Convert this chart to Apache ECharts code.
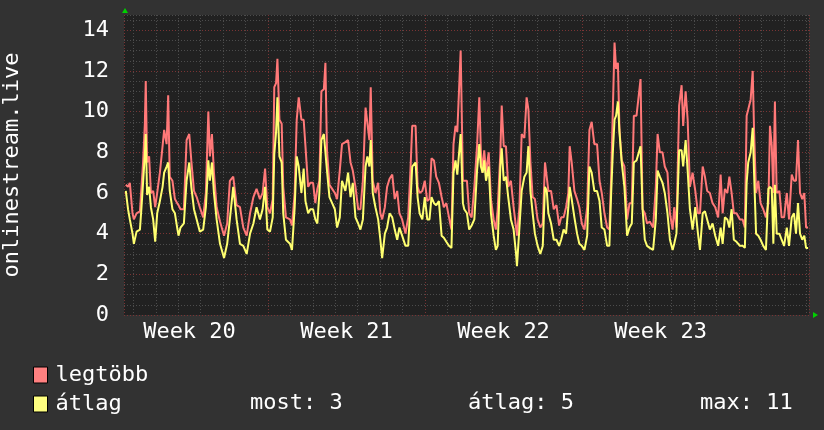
<!DOCTYPE html>
<html>
<head>
<meta charset="utf-8">
<title>onlinestream.live</title>
<script src="https://cdn.jsdelivr.net/npm/echarts@6/dist/echarts.min.js"></script>
<style>
html, body { margin: 0; padding: 0; background: #323232; }
#chart { width: 824px; height: 430px; }
</style>
</head>
<body>
<div id="chart"></div>
<script>
// time in days, 0 = start of Week 21
var days = [
    -6.34, -6.24, -6.16, -6.04, -5.98, -5.86, -5.71, -5.64, -5.57, -5.49,
    -5.45, -5.39, -5.30, -5.22, -5.12, -5.03, -4.94, -4.82, -4.70, -4.63,
    -4.52, -4.45, -4.38, -4.26, -4.15, -4.05, -3.99, -3.90, -3.75, -3.63,
    -3.51, -3.42, -3.30, -3.18, -3.04, -2.89, -2.77, -2.66, -2.59, -2.50,
    -2.41, -2.29, -2.14, -1.96, -1.82, -1.70, -1.55, -1.40, -1.25, -1.10,
    -0.95, -0.80, -0.65, -0.51, -0.36, -0.24, -0.13, -0.03, 0.09, 0.21,
    0.28, 0.36, 0.42, 0.51, 0.61, 0.68, 0.80, 0.98,
    1.07, 1.19, 1.28, 1.37, 1.49, 1.59, 1.67, 1.79, 1.89, 2.01,
    2.11, 2.20, 2.29, 2.38, 2.49, 2.56, 2.63, 2.74, 2.86, 2.98,
    3.08, 3.20, 3.30, 3.45, 3.57, 3.68, 3.78, 3.90, 4.02, 4.12,
    4.23, 4.35, 4.43, 4.52, 4.58, 4.67, 4.79, 4.91, 5.01, 5.09,
    5.21, 5.31, 5.42, 5.54, 5.65, 5.76, 5.86, 5.98, 6.13, 6.25,
    6.35, 6.43, 6.58, 6.67, 6.76, 6.88, 6.99, 7.10, 7.20, 7.29,
    7.40, 7.50, 7.62, 7.74, 7.84, 7.95, 8.07, 8.18, 8.27, 8.36,
    8.44, 8.59, 8.69,
    8.75, 8.87, 8.97, 9.08, 9.20, 9.32, 9.42, 9.49, 9.57, 9.64,
    9.72, 9.84, 9.94, 10.06, 10.16, 10.24, 10.36, 10.42, 10.51, 10.61,
    10.71, 10.83, 10.95, 11.06, 11.10, 11.21, 11.31, 11.43, 11.53, 11.61,
    11.70, 11.80, 11.90, 12.02, 12.14, 12.25, 12.35, 12.43, 12.50, 12.62,
    12.74, 12.86, 12.98, 13.07, 13.18, 13.29, 13.39, 13.45, 13.54, 13.66,
    13.78, 13.88, 13.99, 14.11, 14.23, 14.33, 14.43, 14.55, 14.67, 14.78,
    14.88, 15.00, 15.12, 15.22, 15.30, 15.37, 15.45, 15.52, 15.60, 15.67,
    15.77, 15.89, 16.01, 16.12, 16.22, 16.31,
    16.43, 16.61, 16.70, 16.80, 16.90, 17.02, 17.17, 17.29, 17.37, 17.47,
    17.59, 17.69, 17.81, 17.92, 18.04, 18.11, 18.21, 18.33, 18.44, 18.51,
    18.62, 18.71, 18.81, 18.93, 19.05, 19.17, 19.26, 19.38, 19.48, 19.58,
    19.70, 19.82, 19.94, 20.07, 20.18, 20.27, 20.37, 20.48, 20.57, 20.67,
    20.77, 20.89, 21.04, 21.16, 21.26, 21.34, 21.41, 21.52, 21.61, 21.67,
    21.76, 21.86, 21.96, 22.08, 22.20, 22.31, 22.38, 22.46, 22.53, 22.60,
    22.68, 22.80, 22.90, 23.01, 23.13, 23.23, 23.35, 23.45, 23.54, 23.63,
    23.72, 23.82, 23.91, 23.99, 24.08
];

var legtobb = [
    6.4, 6.3, 6.5, 5.0, 4.7, 5.0, 5.1, 6.3, 7.5, 9.4,
    11.5, 7.5, 7.8, 6.0, 6.1, 5.3, 6.0, 7.0, 8.3, 9.1,
    8.4, 10.8, 6.8, 6.6, 5.7, 5.5, 5.4, 5.2, 5.2, 8.6,
    8.9, 7.6, 6.1, 5.8, 5.3, 4.8, 6.0, 10.0, 7.8, 8.9,
    7.0, 5.3, 4.6, 3.9, 4.5, 6.6, 6.8, 5.4, 5.3, 4.3,
    3.9, 5.0, 5.8, 6.2, 5.7, 6.0, 7.2, 5.3, 5.0, 5.7,
    11.2, 11.4, 12.6, 9.6, 9.4, 6.3, 4.8, 4.7,
    4.4, 6.0, 9.6, 10.7, 9.6, 9.6, 8.3, 6.3, 6.5, 6.5,
    5.5, 6.2, 6.6, 11.0, 11.1, 12.4, 8.1, 6.4, 6.2, 6.0,
    5.7, 7.1, 8.4, 8.5, 8.6, 7.5, 7.1, 6.3, 5.2, 5.2,
    6.6, 10.2, 10.2, 8.6, 11.2, 6.6, 6.0, 6.5, 5.0, 4.7,
    5.3, 6.3, 6.7, 6.9, 5.7, 6.1, 5.0, 4.7, 4.0, 4.8,
    7.1, 9.3, 9.3, 6.3, 6.0, 6.1, 6.6, 5.6, 5.7, 7.7,
    7.6, 6.8, 6.5, 5.8, 5.3, 5.5, 4.8, 4.2, 8.4, 9.3,
    9.0, 13.0, 6.6,
    6.6, 6.6, 5.0, 4.8, 6.3, 8.3, 10.7, 8.1, 7.0, 8.1,
    7.0, 8.0, 5.7, 4.7, 4.2, 5.2, 8.0, 10.3, 8.3, 8.3,
    6.3, 6.6, 5.3, 4.3, 3.9, 5.3, 8.9, 8.7, 10.7, 10.1,
    7.5, 5.8, 5.7, 4.7, 4.3, 4.5, 7.5, 7.5, 6.1, 6.1,
    5.2, 5.4, 4.4, 4.8, 4.8, 5.3, 6.0, 8.3, 7.5, 6.1,
    5.7, 5.3, 4.5, 4.2, 5.3, 9.1, 9.5, 8.4, 8.4, 6.6,
    6.0, 5.0, 4.3, 4.2, 6.8, 9.9, 13.4, 12.1, 12.4, 9.1,
    7.6, 7.3, 4.7, 5.5, 5.5, 9.8,
    9.8, 11.6, 5.2, 5.0, 4.5, 4.6, 4.3, 6.3, 8.9, 8.0,
    8.0, 7.3, 7.0, 5.0, 4.2, 5.3, 4.3, 10.3, 11.3, 9.3,
    11.0, 9.6, 6.3, 7.0, 6.1, 5.0, 5.0, 7.3, 6.8, 6.1,
    6.0, 5.5, 5.3, 4.8, 6.9, 5.0, 6.2, 6.0, 6.8, 6.0,
    5.0, 5.0, 4.7, 4.7, 4.3, 9.8, 10.1, 10.6, 12.0, 9.1,
    6.0, 6.6, 5.5, 5.2, 4.8, 5.5, 9.3, 8.3, 6.0, 10.5,
    6.0, 6.1, 4.8, 4.8, 6.0, 4.7, 6.9, 6.6, 6.6, 8.6,
    6.0, 5.7, 6.0, 4.3, 4.3
];

var atlag = [
    6.1, 5.2, 4.7, 4.0, 3.5, 4.1, 4.2, 5.3, 6.5, 7.9,
    8.9, 5.9, 6.3, 5.3, 4.7, 3.6, 5.0, 5.6, 6.3, 7.0,
    7.3, 7.5, 6.1, 5.2, 5.0, 4.3, 3.9, 4.3, 4.5, 6.6,
    7.5, 6.3, 5.2, 4.7, 4.1, 4.2, 5.3, 7.6, 6.6, 7.5,
    6.0, 4.7, 3.5, 2.8, 3.5, 4.7, 6.3, 4.7, 3.5, 3.4,
    3.0, 4.0, 4.5, 5.3, 4.7, 5.2, 6.3, 4.2, 4.1, 4.8,
    7.9, 9.0, 10.7, 7.8, 7.5, 5.0, 3.7, 3.5,
    3.2, 5.3, 7.8, 7.3, 6.0, 7.2, 5.6, 5.0, 5.2, 5.2,
    4.7, 4.5, 6.0, 8.6, 8.9, 8.9, 7.1, 5.8, 5.5, 5.2,
    4.3, 4.8, 6.6, 6.1, 7.0, 5.8, 6.5, 4.8, 4.5, 4.2,
    4.7, 7.3, 7.8, 7.3, 8.6, 6.0, 5.3, 4.7, 3.7, 2.8,
    4.0, 4.3, 5.0, 4.8, 4.2, 3.7, 4.3, 3.9, 3.4, 3.4,
    5.5, 7.3, 7.5, 5.8, 5.0, 4.7, 5.8, 4.7, 4.7, 5.8,
    5.5, 5.4, 5.6, 3.9, 3.8, 3.6, 3.4, 3.3, 7.0, 7.6,
    6.9, 8.9, 5.5,
    5.2, 5.0, 4.2, 4.4, 4.7, 7.1, 8.4, 7.3, 7.0, 7.6,
    6.6, 7.3, 5.0, 3.9, 3.2, 3.4, 7.3, 8.2, 6.6, 6.8,
    5.8, 4.7, 4.2, 3.0, 2.4, 4.3, 6.1, 6.8, 7.0, 8.3,
    6.1, 5.0, 4.0, 3.4, 3.0, 3.4, 6.3, 6.1, 5.0, 4.5,
    3.7, 3.7, 3.4, 3.7, 4.2, 4.0, 5.3, 6.3, 5.7, 4.8,
    4.0, 3.5, 3.4, 3.2, 3.9, 7.3, 7.0, 6.1, 6.1, 5.6,
    4.3, 4.2, 3.4, 3.4, 6.0, 7.9, 9.6, 9.8, 10.5, 9.0,
    7.5, 6.3, 3.9, 4.3, 4.5, 7.5,
    7.6, 8.3, 5.2, 3.7, 3.4, 3.3, 3.2, 4.7, 7.1, 6.8,
    6.5, 6.0, 5.0, 3.7, 3.2, 3.5, 4.0, 8.1, 8.1, 7.3,
    8.6, 7.1, 5.2, 4.2, 5.3, 4.0, 3.2, 5.0, 5.1, 4.7,
    4.2, 4.5, 3.9, 3.4, 4.3, 3.5, 4.8, 4.7, 4.3, 5.2,
    3.7, 3.6, 3.4, 3.4, 3.3, 6.5, 7.5, 8.0, 9.2, 7.0,
    4.0, 3.9, 3.7, 3.4, 3.2, 6.2, 6.3, 6.2, 3.5, 6.4,
    4.0, 4.0, 3.7, 3.4, 4.3, 3.4, 4.8, 5.0, 4.0, 5.5,
    4.0, 3.7, 3.9, 3.3, 3.3
];

var weekNames = ['Week 20', 'Week 21', 'Week 22', 'Week 23'];
var statLabels = ['most: 3', 'átlag: 5', 'max: 11'];

(function(echarts, window, document, undefined) {
    var FONT = '"DejaVu Sans Mono", "Liberation Mono", monospace',
        FONT_SIZE = 22,
        dayMin = -6.42,
        dayMax = 24.12,
        gridLeft = 124,
        gridTop = 15,
        gridRight = 15,
        gridBottom = 115,
        chart, option;

    function pairs(values) {
        return values.map(function(v, i) {
            return [days[i], v];
        });
    }

    function arrow(points) {
        return {
            type: 'polygon',
            silent: true,
            shape: { points: points },
            style: { fill: '#00d000' }
        };
    }

    var statText = [250, 468, 700].map(function(x, i) {
        return {
            type: 'text',
            left: x,
            top: 392,
            style: {
                text: statLabels[i],
                fill: '#ffffff',
                font: FONT_SIZE + 'px ' + FONT
            }
        };
    });

    option = {
        backgroundColor: '#323232',
        animation: false,
        textStyle: { fontFamily: FONT },
        grid: {
            left: gridLeft,
            top: gridTop,
            right: gridRight,
            bottom: gridBottom,
            containLabel: false,
            outerBoundsMode: 'none',
            show: true,
            backgroundColor: '#212121',
            borderWidth: 0
        },
        legend: {
            orient: 'vertical',
            left: 28,
            top: 359,
            itemWidth: 14,
            itemHeight: 16,
            itemGap: 7,
            icon: 'rect',
            selectedMode: false,
            itemStyle: { borderColor: '#000', borderWidth: 1 },
            textStyle: { color: '#ffffff', fontSize: FONT_SIZE, fontFamily: FONT, padding: [0, 0, 0, 3] },
            data: ['legtöbb', 'átlag']
        },
        xAxis: [{
            // daily minor grid
            type: 'value',
            position: 'bottom',
            min: dayMin,
            max: dayMax,
            minInterval: 1,
            maxInterval: 1,
            axisLine: { show: false },
            axisTick: { show: false },
            axisLabel: { show: false },
            splitLine: { show: true, lineStyle: { color: '#4c4c4c', width: 1, type: [1, 2] } }
        }, {
            // weekly major grid
            type: 'value',
            position: 'bottom',
            min: dayMin,
            max: dayMax,
            minInterval: 7,
            maxInterval: 7,
            axisLine: { show: false },
            axisTick: { show: false },
            axisLabel: { show: false },
            splitLine: { show: true, lineStyle: { color: '#7a3434', width: 1, type: [1, 2] } }
        }, {
            // week labels, centred in the middle of each week
            type: 'value',
            position: 'bottom',
            min: dayMin + 3.5,
            max: dayMax + 3.5,
            minInterval: 7,
            maxInterval: 7,
            axisLine: { show: false },
            axisTick: { show: false },
            splitLine: { show: false },
            axisLabel: {
                margin: 6,
                color: '#ffffff',
                fontSize: FONT_SIZE,
                fontFamily: FONT,
                formatter: function(v) {
                    var w = v / 7;
                    return (Math.abs(w - Math.round(w)) < 1e-6 && weekNames[w] !== undefined) ? weekNames[w] : '';
                }
            }
        }],
        yAxis: {
            type: 'value',
            min: 0,
            max: 14.75,
            interval: 0.5,
            name: 'onlinestream.live',
            nameLocation: 'middle',
            nameGap: 101,
            nameRotate: 90,
            nameTextStyle: { color: '#ffffff', fontSize: FONT_SIZE, fontFamily: FONT },
            axisLine: { show: false },
            axisTick: { show: false },
            axisLabel: {
                margin: 15,
                padding: [5, 0, 0, 0],
                color: '#ffffff',
                fontSize: FONT_SIZE,
                fontFamily: FONT,
                formatter: function(v) {
                    return v % 2 === 0 ? String(v) : '';
                }
            },
            splitLine: {
                show: true,
                lineStyle: { color: ['#7a3434', '#4c4c4c', '#4c4c4c', '#4c4c4c'], width: 1, type: [1, 2] }
            }
        },
        series: [{
            name: 'legtöbb',
            type: 'line',
            xAxisIndex: 0,
            data: pairs(legtobb),
            symbol: 'none',
            itemStyle: { color: '#ff8080' },
            lineStyle: { color: '#ff7878', width: 2 },
            z: 2
        }, {
            name: 'átlag',
            type: 'line',
            xAxisIndex: 0,
            data: pairs(atlag),
            symbol: 'none',
            itemStyle: { color: '#ffff80' },
            lineStyle: { color: '#ffff70', width: 2 },
            z: 3
        }],
        graphic: statText.concat([
            arrow([[gridLeft + 1, 8], [gridLeft - 2, 13], [gridLeft + 4, 13]]),
            arrow([[824 - gridRight + 9, 430 - gridBottom], [824 - gridRight + 4, 430 - gridBottom - 3], [824 - gridRight + 4, 430 - gridBottom + 3]])
        ])
    };

    chart = echarts.init(document.getElementById('chart'));
    chart.setOption(option);
})(window.echarts, window, document);
</script>
</body>
</html>
